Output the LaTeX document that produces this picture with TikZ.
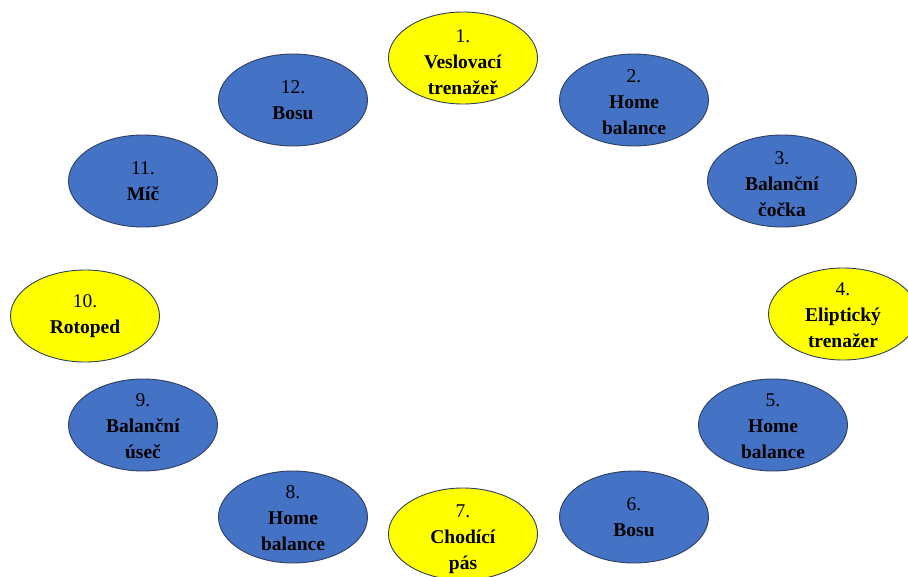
\documentclass[tikz,border=0pt]{standalone}
\usepackage{fontspec}
\setmainfont{Liberation Serif}
\usepackage{xcolor}
\definecolor{stblue}{HTML}{4472C4}
\definecolor{styellow}{HTML}{FFFF00}
\definecolor{stedge}{HTML}{2F3F5F}
\usetikzlibrary{shapes.geometric}

\begin{document}
\begin{tikzpicture}[
  x=1pt, y=-1pt,
  stn/.style={ellipse, draw=stedge, line width=0.9pt, inner sep=0pt,
              minimum width=149pt, minimum height=92pt},
  blue/.style={stn, fill=stblue},
  yel/.style={stn, fill=styellow},
  lbl/.style={align=center, font=\fontsize{19.5}{26}\selectfont, text=black}
]
  \useasboundingbox (0,0) rectangle (908,576);

  \node[yel]  (e1)  at (463,58)  {};
  \node[blue] (e2)  at (634,100) {};
  \node[blue] (e3)  at (782,181) {};
  \node[yel]  (e4)  at (843,314) {};
  \node[blue] (e5)  at (773,425) {};
  \node[blue] (e6)  at (634,517) {};
  \node[yel]  (e7)  at (463,534) {};
  \node[blue] (e8)  at (293,517) {};
  \node[blue] (e9)  at (143,425) {};
  \node[yel]  (e10) at (85,316)  {};
  \node[blue] (e11) at (143,181) {};
  \node[blue] (e12) at (293,100) {};

  \node[lbl, yshift=-4pt] (t1)  at (e1)  {1.\\\textbf{Veslovací}\\\textbf{trenažeř}};
  \node[lbl, yshift=-2pt] (t2)  at (e2)  {2.\\\textbf{Home}\\\textbf{balance}};
  \node[lbl, yshift=-3pt] (t3)  at (e3)  {3.\\\textbf{Balanční}\\\textbf{čočka}};
  \node[lbl, yshift=-1pt] (t4)  at (e4)  {4.\\\textbf{Eliptický}\\\textbf{trenažer}};
  \node[lbl, yshift=-1pt] (t5)  at (e5)  {5.\\\textbf{Home}\\\textbf{balance}};
  \node[lbl]              (t6)  at (e6)  {6.\\\textbf{Bosu}};
  \node[lbl, yshift=-5pt] (t7)  at (e7)  {7.\\\textbf{Chodící}\\\textbf{pás}};
  \node[lbl, yshift=-1pt] (t8)  at (e8)  {8.\\\textbf{Home}\\\textbf{balance}};
  \node[lbl, yshift=-1pt] (t9)  at (e9)  {9.\\\textbf{Balanční}\\\textbf{úseč}};
  \node[lbl]              (t10) at (e10) {10.\\\textbf{Rotoped}};
  \node[lbl]              (t11) at (e11) {11.\\\textbf{Míč}};
  \node[lbl]              (t12) at (e12) {12.\\\textbf{Bosu}};
\end{tikzpicture}
\end{document}
